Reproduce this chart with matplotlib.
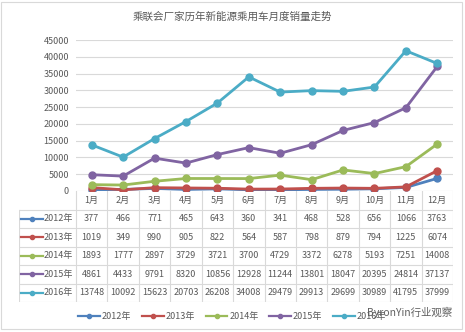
import matplotlib
matplotlib.use("Agg")
import matplotlib.pyplot as plt
from matplotlib.lines import Line2D
from matplotlib.patches import Rectangle

plt.rcParams['font.family'] = ['Noto Sans CJK SC', 'DejaVu Sans']

# 数据
months = ["1月", "2月", "3月", "4月", "5月", "6月", "7月", "8月", "9月", "10月", "11月", "12月"]
years = ["2012年", "2013年", "2014年", "2015年", "2016年"]
s2012 = [377, 466, 771, 465, 643, 360, 341, 468, 528, 656, 1066, 3763]
s2013 = [1019, 349, 990, 905, 822, 564, 587, 798, 879, 794, 1225, 6074]
s2014 = [1893, 1777, 2897, 3729, 3721, 3700, 4729, 3372, 6278, 5193, 7251, 14008]
s2015 = [4861, 4433, 9791, 8320, 10856, 12928, 11244, 13801, 18047, 20395, 24814, 37137]
s2016 = [13748, 10092, 15623, 20703, 26208, 34008, 29479, 29913, 29699, 30989, 41795, 37999]
series = [s2012, s2013, s2014, s2015, s2016]
colors = ["#4F81BD", "#C0504D", "#9BBB59", "#8064A2", "#4BACC6"]

W, H = 465, 332
TXT = "#595959"
GRID = "#D9D9D9"

fig = plt.figure(figsize=(W / 100, H / 100), dpi=100)

# 外框
fig.patches.append(Rectangle((1 / W, 3 / H), 461 / W, 327 / H, transform=fig.transFigure,
                             fill=False, edgecolor=GRID, linewidth=0.8))

# 折线图区
left, right, top, bottom = 76, 453, 40, 191
ax = fig.add_axes([left / W, (H - bottom) / H, (right - left) / W, (bottom - top) / H])
x = list(range(len(months)))
for s, c in zip(series, colors):
    ax.plot(x, s, color=c, linewidth=2, marker='o', markersize=5)
ax.set_xlim(-0.5, 11.5)
ax.set_ylim(0, 45000)
ax.set_yticks(range(0, 45001, 5000))
ax.set_xticks([])
ax.tick_params(axis='y', length=0, labelsize=6.5, labelcolor=TXT, pad=5)
ax.grid(axis='y', color=GRID, linewidth=0.8)
ax.set_axisbelow(True)
for sp in ax.spines.values():
    sp.set_visible(False)

fig.text(232 / W, 1 - 17 / H, "乘联会厂家历年新能源乘用车月度销量走势", ha='center', va='center',
         fontsize=7.6, color=TXT)

# 数据表
tl, tb = 19, 302
colw = (right - left) / 12
lab_w = (left - tl) / colw
tab = fig.add_axes([tl / W, (H - tb) / H, (right - tl) / W, (tb - bottom) / H])
tab.set_xlim(-0.5 - lab_w, 11.5)
tab.set_ylim(6, 0)
tab.axis('off')
x0 = -0.5 - lab_w
for i in range(13):
    tab.plot([i - 0.5, i - 0.5], [0, 6], color=GRID, linewidth=0.8)
tab.plot([x0, x0], [1, 6], color=GRID, linewidth=0.8)
for r in range(1, 7):
    tab.plot([x0, 11.5], [r, r], color=GRID, linewidth=0.8)
for i, m in enumerate(months):
    tab.text(i, 0.5, m, ha='center', va='center', fontsize=6.5, color=TXT)
for r, (yr, s, c) in enumerate(zip(years, series, colors)):
    yy = r + 1.5
    k0, k1 = x0 + 2 / colw, x0 + 24 / colw
    tab.plot([k0, k1], [yy, yy], color=c, linewidth=1.6)
    tab.plot([(k0 + k1) / 2], [yy], marker='o', color=c, markersize=3)
    tab.text(k1 + 1 / colw, yy, yr, ha='left', va='center', fontsize=6.5, color=TXT)
    for i, v in enumerate(s):
        tab.text(i, yy, str(v), ha='center', va='center', fontsize=6.5, color=TXT)

# 图例
handles = [Line2D([], [], color=c, linewidth=1.6, marker='o', markersize=3) for c in colors]
fig.legend(handles, years, loc='center', bbox_to_anchor=(232 / W, 1 - 317 / H), ncol=5,
           frameon=False, fontsize=6.5, handlelength=2.4, handletextpad=0.2,
           columnspacing=1.2, labelcolor=TXT)

# 水印
fig.text(452 / W, 1 - 312 / H, "ByronYin行业观察", ha='right', va='center', fontsize=7.5,
         color="#444444", alpha=0.85)

fig.savefig("out.png", dpi=100)
